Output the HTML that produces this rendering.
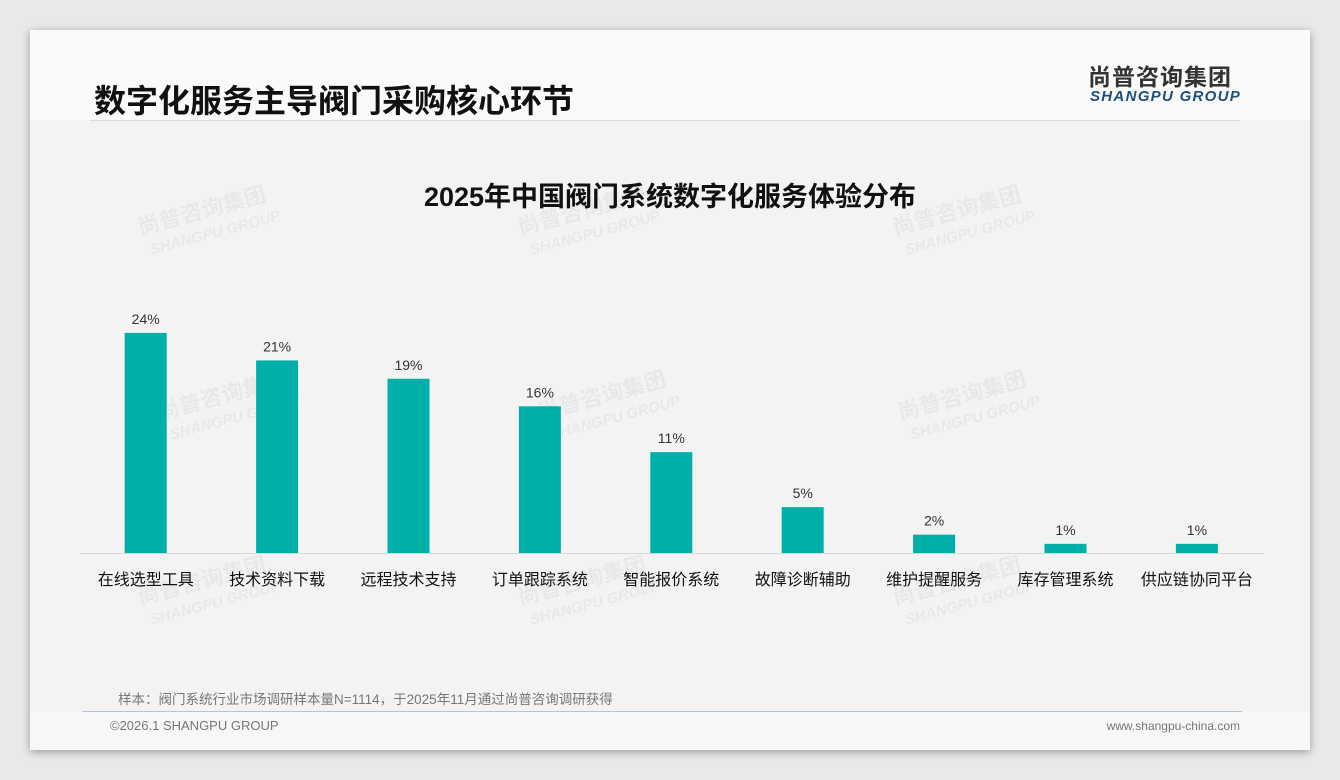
<!DOCTYPE html>
<html><head><meta charset="utf-8"><style>
body{margin:0;width:1340px;height:780px;background:#e9e9e9;font-family:"Liberation Sans","Noto Sans CJK SC",sans-serif;overflow:hidden;position:relative}
#card{position:absolute;left:30px;top:30px;width:1280px;height:720px;background:#f3f3f3;box-shadow:0 2px 8px rgba(0,0,0,.35)}
#head{position:absolute;left:0;top:0;width:1280px;height:90px;background:#fafafa}
.t{position:absolute;white-space:nowrap}
</style></head><body>
<div id="card">
<div id="head"></div>
<div class="t" style="left:64px;top:46px;font-size:32px;font-weight:bold;color:#111">数字化服务主导阀门采购核心环节</div>
<div class="t" style="left:1058px;top:34px;font-size:23px;font-weight:bold;color:#333;letter-spacing:1px;line-height:26px">尚普咨询集团</div>
<div class="t" style="left:1060px;top:58px;font-size:15px;font-weight:bold;font-style:italic;color:#1d4f7a;letter-spacing:1.3px">SHANGPU GROUP</div>
<div style="position:absolute;left:60px;top:90px;width:1150px;height:1px;background:#ddd"></div>
<div class="t" style="left:0;width:1280px;text-align:center;top:145px;font-size:27px;font-weight:bold;color:#111">2025年中国阀门系统数字化服务体验分布</div>
<svg id="chart" width="1280" height="720" style="position:absolute;left:0;top:0"></svg>
<div class="t" style="left:88px;top:658px;font-size:13.5px;color:#777">样本：阀门系统行业市场调研样本量N=1114，于2025年11月通过尚普咨询调研获得</div>
<div style="position:absolute;left:0;top:681px;width:1280px;height:39px;background:#f7f7f7"></div>
<div style="position:absolute;left:52px;top:681px;width:1160px;height:1px;background:#b8c4d0"></div>
<div class="t" style="left:80px;top:688px;font-size:13px;color:#777">©2026.1 SHANGPU GROUP</div>
<div class="t" style="right:70px;top:689px;font-size:12px;color:#777">www.shangpu-china.com</div>
</div>
<script>
const categories=["在线选型工具","技术资料下载","远程技术支持","订单跟踪系统","智能报价系统","故障诊断辅助","维护提醒服务","库存管理系统","供应链协同平台"];
const values=[24,21,19,16,11,5,2,1,1];
const labels=["24%","21%","19%","16%","11%","5%","2%","1%","1%"];
const svg=document.getElementById('chart');const NS='http://www.w3.org/2000/svg';
const x0=50,step=131.4,base=523,k=9.17,bw=42;
const xc=i=>x0+step*(i+0.5);const y=v=>base-v*k;
function mk(t,a){const e=document.createElementNS(NS,t);for(const n in a)e.setAttribute(n,a[n]);svg.appendChild(e);return e;}
[[110,205],[490,205],[865,205],[130,390],[510,390],[870,390],[110,575],[490,575],[865,575]].forEach(p=>{
const g=mk('text',{x:p[0],y:p[1],transform:`rotate(-15 ${p[0]} ${p[1]})`,fill:'#000','fill-opacity':'0.045','font-size':'22','font-weight':'bold'});g.textContent='尚普咨询集团';

const h=mk('text',{x:p[0]+6,y:p[1]+22,transform:`rotate(-15 ${p[0]} ${p[1]})`,fill:'#000','fill-opacity':'0.045','font-size':'15','font-weight':'bold','font-style':'italic'});h.textContent='SHANGPU GROUP';
});
const ax=mk('line',{x1:50,x2:1234,y1:base+0.5,y2:base+0.5,stroke:'#d8d8d8'});

values.forEach((v,i)=>{
const r=mk('rect',{x:xc(i)-bw/2,y:y(v),width:bw,height:v*k,fill:'#00b0a8'});

const l=mk('text',{x:xc(i),y:y(v)-9,'text-anchor':'middle','font-size':'14',fill:'#333'});l.textContent=labels[i];

const c=mk('text',{x:xc(i),y:base+32,'text-anchor':'middle','font-size':'16',fill:'#111'});c.textContent=categories[i];

});
</script>
</body></html>
